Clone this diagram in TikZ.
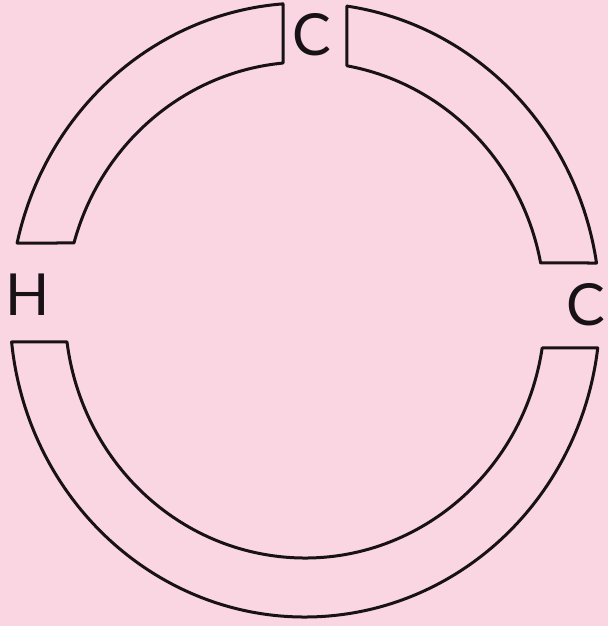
\documentclass[tikz,border=0pt]{standalone}
\usepackage{fontspec}
\setmainfont{Lato}
\definecolor{bg}{RGB}{250,214,226}
\definecolor{ink}{RGB}{24,18,22}
\begin{document}
\begin{tikzpicture}[x=1pt,y=1pt,
  seg/.style={draw=ink,line width=3pt,line join=round},
  lbl/.style={font=\fontsize{58}{58}\selectfont,text=ink,inner sep=0pt}]
\fill[bg] (0,0) rectangle (608,626);
\useasboundingbox (0,0) rectangle (608,626);
\def\cx{305}\def\cy{316}
\def\Rx{295}\def\Ry{307}\def\rx{240}\def\ry{248}
% top-left segment
\pgfmathsetmacro\aO{acos((283-\cx)/\Rx)}
\pgfmathsetmacro\aI{acos((283-\cx)/\rx)}
\pgfmathsetmacro\bO{180-asin((383-\cy)/\Ry)}
\pgfmathsetmacro\bI{180-asin((383-\cy)/\ry)}
\draw[seg] ({\cx+\Rx*cos(\aO)},{\cy+\Ry*sin(\aO)})
  arc[start angle=\aO,end angle=\bO,x radius=\Rx,y radius=\Ry]
  -- ({\cx+\rx*cos(\bI)},{\cy+\ry*sin(\bI)})
  arc[start angle=\bI,end angle=\aI,x radius=\rx,y radius=\ry] -- cycle;
% top-right segment
\pgfmathsetmacro\cO{acos((347-\cx)/\Rx)}
\pgfmathsetmacro\cI{acos((347-\cx)/\rx)}
\pgfmathsetmacro\dO{asin((363-\cy)/\Ry)}
\pgfmathsetmacro\dI{asin((363-\cy)/\ry)}
\draw[seg] ({\cx+\Rx*cos(\cO)},{\cy+\Ry*sin(\cO)})
  arc[start angle=\cO,end angle=\dO,x radius=\Rx,y radius=\Ry]
  -- ({\cx+\rx*cos(\dI)},{\cy+\ry*sin(\dI)})
  arc[start angle=\dI,end angle=\cI,x radius=\rx,y radius=\ry] -- cycle;
% bottom segment
\pgfmathsetmacro\eO{180-asin((284-\cy)/\Ry)}
\pgfmathsetmacro\eI{180-asin((284-\cy)/\ry)}
\pgfmathsetmacro\fO{360+asin((278-\cy)/\Ry)}
\pgfmathsetmacro\fI{360+asin((278-\cy)/\ry)}
\draw[seg] ({\cx+\Rx*cos(\eO)},{\cy+\Ry*sin(\eO)})
  arc[start angle=\eO,end angle=\fO,x radius=\Rx,y radius=\Ry]
  -- ({\cx+\rx*cos(\fI)},{\cy+\ry*sin(\fI)})
  arc[start angle=\fI,end angle=\eI,x radius=\rx,y radius=\ry] -- cycle;
% labels
\node[lbl] (ctop) at (312,591) {C};
\node[lbl] (h) at (28,331) {H};
\node[lbl] (cright) at (586,321) {C};
\end{tikzpicture}
\end{document}
